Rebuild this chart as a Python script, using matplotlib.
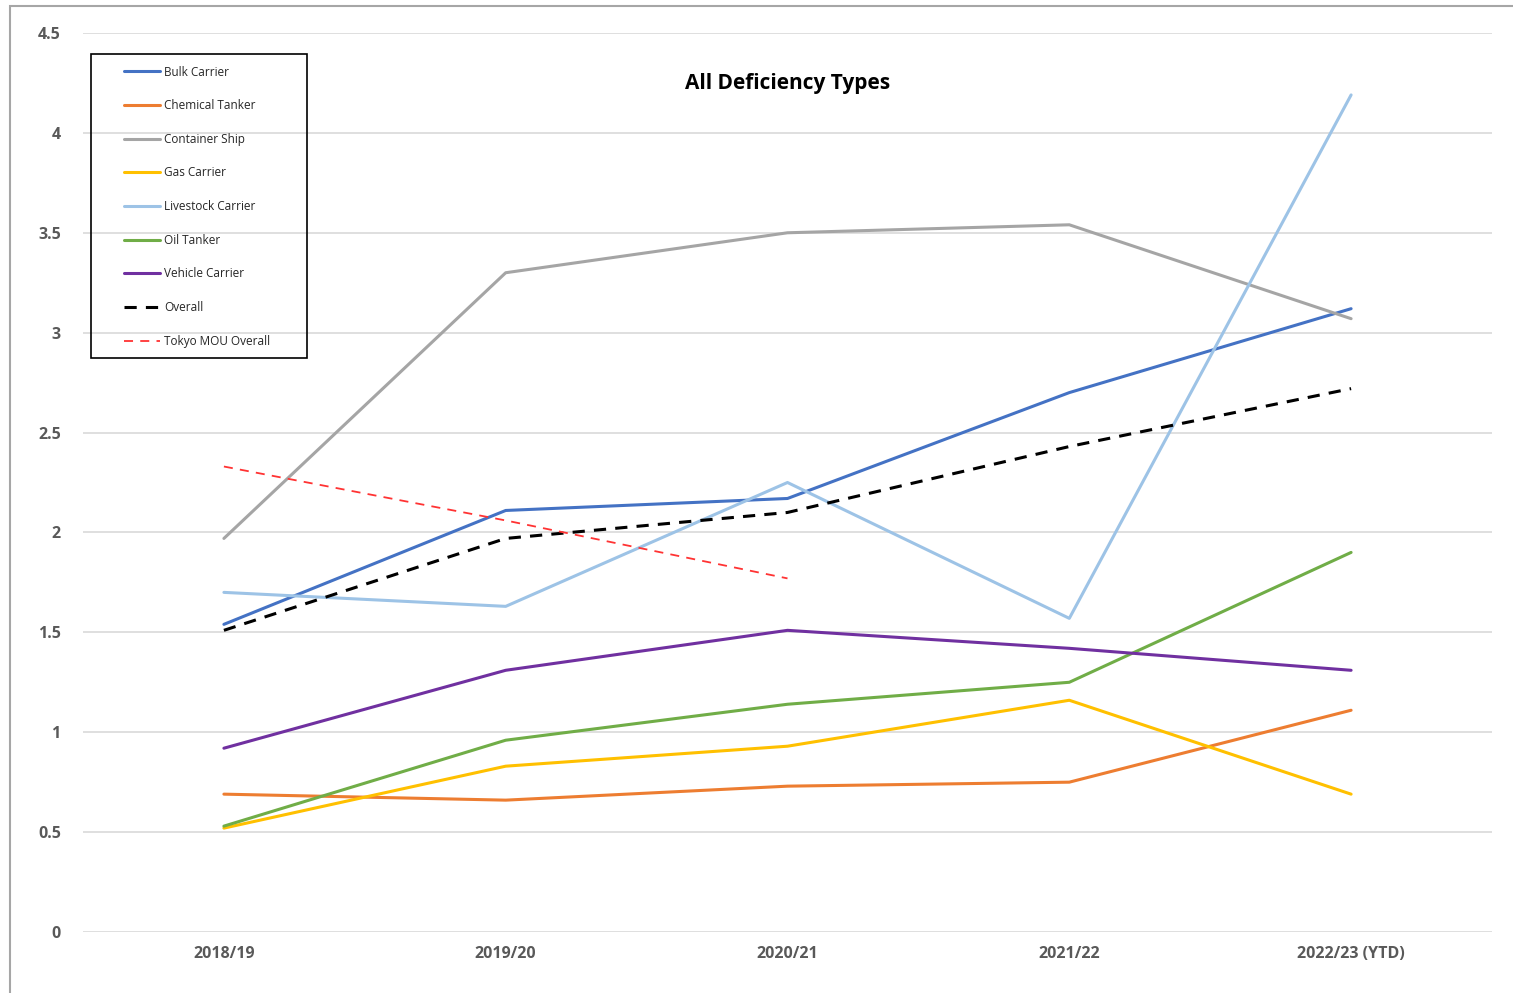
import matplotlib
matplotlib.use("Agg")
import matplotlib.pyplot as plt
from matplotlib.patches import Rectangle

categories = ["2018/19", "2019/20", "2020/21", "2021/22", "2022/23 (YTD)"]
bulk_carrier = [1.54, 2.11, 2.17, 2.70, 3.12]
chemical_tanker = [0.69, 0.66, 0.73, 0.75, 1.11]
container_ship = [1.97, 3.30, 3.50, 3.54, 3.07]
gas_carrier = [0.52, 0.83, 0.93, 1.16, 0.69]
livestock_carrier = [1.70, 1.63, 2.25, 1.57, 4.19]
oil_tanker = [0.53, 0.96, 1.14, 1.25, 1.90]
vehicle_carrier = [0.92, 1.31, 1.51, 1.42, 1.31]
overall = [1.51, 1.97, 2.10, 2.43, 2.72]
tokyo_mou_overall = [2.33, 2.06, 1.77]

W, H = 1513, 993
fig = plt.figure(figsize=(W / 100, H / 100), dpi=100)
fig.patch.set_facecolor("white")
# outer chart frame
fig.add_artist(Rectangle((10 / W, -0.05), 1.2, 1 - 6 / H + 0.05, transform=fig.transFigure,
                         fill=False, edgecolor="#a6a6a6", linewidth=1.5))

ax = fig.add_axes([83 / W, 1 - 932 / H, (1492 - 83) / W, (932 - 33) / H])
x = list(range(len(categories)))

series = [
    ("Bulk Carrier", bulk_carrier, "#4472c4", "-"),
    ("Chemical Tanker", chemical_tanker, "#ed7d31", "-"),
    ("Container Ship", container_ship, "#a5a5a5", "-"),
    ("Gas Carrier", gas_carrier, "#ffc000", "-"),
    ("Livestock Carrier", livestock_carrier, "#9dc3e6", "-"),
    ("Oil Tanker", oil_tanker, "#70ad47", "-"),
    ("Vehicle Carrier", vehicle_carrier, "#7030a0", "-"),
]
for name, vals, col, ls in series:
    ax.plot(x, vals, color=col, linewidth=2.2, linestyle=ls, label=name, solid_capstyle="round")
ax.plot(x, overall, color="black", linewidth=2.2, linestyle=(0, (4, 3)), label="Overall")
ax.plot(x[:len(tokyo_mou_overall)], tokyo_mou_overall, color="#ff3333", linewidth=1.3,
        linestyle=(0, (5, 4)), label="Tokyo MOU Overall")

ax.set_xlim(-0.5, 4.5)
ax.set_ylim(0, 4.5)
ax.set_yticks([0, 0.5, 1, 1.5, 2, 2.5, 3, 3.5, 4, 4.5])
ax.set_yticklabels(["0", "0.5", "1", "1.5", "2", "2.5", "3", "3.5", "4", "4.5"])
ax.set_xticks(x)
ax.set_xticklabels(categories)
ax.grid(axis="y", color="#d9d9d9", linewidth=1.2)
ax.set_axisbelow(True)
for s in ax.spines.values():
    s.set_visible(False)
ax.tick_params(axis="both", length=0, colors="#595959", labelsize=11.5)
ax.tick_params(axis="y", pad=16)
ax.tick_params(axis="x", pad=10)
for lab in ax.get_xticklabels() + ax.get_yticklabels():
    lab.set_fontweight("bold")
    lab.set_fontfamily("Open Sans")

fig.text(788 / W, 1 - 83 / H, "All Deficiency Types", ha="center", va="center",
         fontsize=15, fontweight="bold", fontfamily="Open Sans", color="black")

# legend frame drawn separately so its padding can match the reference
fig.add_artist(Rectangle((91 / W, 1 - 358 / H), (307 - 91) / W, (358 - 54) / H,
                         transform=fig.transFigure, fill=False, edgecolor="black",
                         linewidth=1.2, zorder=5))
leg = ax.legend(loc="upper left", bbox_to_anchor=(124 / W, 1 - 65.5 / H),
                bbox_transform=fig.transFigure, frameon=False,
                handlelength=3.05, handletextpad=0.35, labelspacing=1.75,
                borderpad=0, borderaxespad=0, prop={"family": "Open Sans", "size": 8.5})
for t in leg.get_texts():
    t.set_color("#262626")

fig.savefig("out.png", dpi=100)
